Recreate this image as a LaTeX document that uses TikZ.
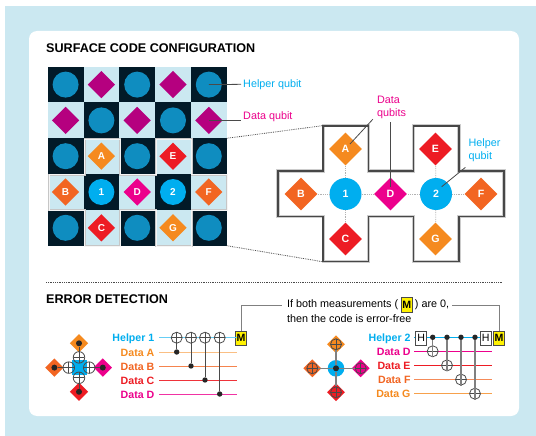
\documentclass[tikz,border=0pt]{standalone}
\usepackage{fontspec}
\setmainfont{Liberation Sans}
\usetikzlibrary{arrows.meta,positioning,shapes.geometric}
\definecolor{panelblue}{HTML}{CBE8F1}
\definecolor{griddark}{HTML}{021A28}
\definecolor{mutedblue}{HTML}{0F8DC0}
\definecolor{mutedpurple}{HTML}{B5007F}
\definecolor{helpercyan}{HTML}{00AEEF}
\definecolor{datapink}{HTML}{EC008C}
\definecolor{datared}{HTML}{ED1C24}
\definecolor{dataorange}{HTML}{F26522}
\definecolor{dataamber}{HTML}{F58A1F}
\definecolor{measyellow}{HTML}{FFF200}
\definecolor{linegray}{HTML}{4A4A4A}
\newcommand{\crosspath}{(1,0) -- (2,0) -- (2,1) -- (3,1) -- (3,0) -- (4,0) -- (4,1)
  -- (5,1) -- (5,2) -- (4,2) -- (4,3) -- (3,3) -- (3,2) -- (2,2) -- (2,3) -- (1,3)
  -- (1,2) -- (0,2) -- (0,1) -- (1,1) -- cycle}
\begin{document}
\begin{tikzpicture}[x=1pt,y=-1pt,
 cell/.style={minimum size=35.8pt,inner sep=0pt,outer sep=0pt},
 bit/.style={circle,minimum size=#1,inner sep=0pt,text=white,font=\fontsize{10}{12}\selectfont\bfseries},
 gem/.style={diamond,aspect=1,minimum size=#1,inner sep=0pt,text=white,font=\fontsize{10}{12}\selectfont\bfseries},
 txt/.style={inner sep=0pt,font=\fontsize{10.8}{13.3}\selectfont,align=left},
 head/.style={anchor=west,inner sep=0pt,font=\fontsize{12.6}{15}\selectfont\bfseries},
 wirelab/.style={anchor=east,inner sep=0pt,text height=8pt,text depth=0pt,text=#1,
   font=\fontsize{10.6}{13}\selectfont\bfseries},
 wire/.style={line width=.9pt,shorten <=4.5pt,color=#1},
 leader/.style={color=linegray,line width=.8pt},
 link/.style={color=gray!60,densely dotted,line width=.8pt},
 zoomline/.style={color=linegray,densely dotted,line width=.8pt},
 gate/.style={color=linegray,line width=1pt},
 ctrl/.style={circle,fill=black!85,minimum size=5.4pt,inner sep=0pt},
 target/.style={circle,draw=linegray,line width=.8pt,minimum size=#1,inner sep=0pt,
   path picture={\draw[linegray,line width=.7pt]
     (path picture bounding box.north) -- (path picture bounding box.south)
     (path picture bounding box.west) -- (path picture bounding box.east);}},
 hbox/.style={draw=linegray,fill=white,line width=1pt,minimum width=11pt,minimum height=14pt,
   inner sep=0pt,font=\fontsize{10.6}{13}\selectfont},
 mbox/.style={draw=linegray,fill=measyellow,line width=.8pt,minimum width=11pt,minimum height=14pt,
   inner sep=0pt,font=\fontsize{10.6}{13}\selectfont\bfseries}]
 \useasboundingbox (0,0) rectangle (536,436);
 \fill[panelblue] (5,6) rectangle (536,436);
 \fill[white,rounded corners=8pt] (29,31) rectangle (519,416);
 \node[head] (titleA) at (46,48.5) {SURFACE CODE CONFIGURATION};
 \node[head] (titleB) at (46,299.5) {ERROR DETECTION};
 % grid of qubits
 \foreach \r in {0,...,4}
  \foreach \c in {0,...,4} {
   \pgfmathtruncatemacro{\odd}{mod(\r+\c,2)}
   \ifnum\odd=0 \def\shade{griddark}\else \def\shade{panelblue}\fi
   \node[cell,fill=\shade] (cell-\c-\r) at (65.6+35.8*\c,84.6+35.8*\r) {};
  }
 \begin{scope}[shift={(49,139)},x=35.65pt,y=-35.65pt]
  \draw[color=white!55!gray,line width=2.2pt] \crosspath;
  \draw[color=white!92!gray,line width=.8pt] \crosspath;
 \end{scope}
 \foreach \c/\r in {0/0,2/0,4/0,1/1,3/1,0/2,2/2,4/2,0/4,2/4,4/4}
  \node[bit=26pt,fill=mutedblue] (help-\c-\r) at (cell-\c-\r) {};
 \foreach \c/\r in {1/0,3/0,0/1,2/1,4/1}
  \node[gem=27.4pt,fill=mutedpurple] (data-\c-\r) at (cell-\c-\r) {};
 \foreach \n/\c/\r/\col in {A/1/2/dataamber,E/3/2/datared,B/0/3/dataorange,D/2/3/datapink,
   F/4/3/dataorange,C/1/4/datared,G/3/4/dataamber}
  \node[gem=27.4pt,fill=\col] (grid\n) at (cell-\c-\r) {\n};
 \node[bit=26pt,fill=helpercyan] (grid1) at (cell-1-3) {1};
 \node[bit=26pt,fill=helpercyan] (grid2) at (cell-3-3) {2};
 \node[txt,anchor=west,text=helpercyan] (helperlab) at (243,84.3) {Helper qubit};
 \node[txt,anchor=west,text=datapink] (datalab) at (243,117) {Data qubit};
 \draw[leader,shorten >=2pt] (help-4-0.center) -- (helperlab.west);
 \draw[leader,shorten >=2pt] (data-4-1.center) -- (data-4-1.center -| datalab.west);
 % enlarged patch
 \coordinate (crossTL) at (322.5,125.7);
 \coordinate (crossBL) at (322.5,261.7);
 \draw[zoomline] (cell-4-1.south east) -- (crossTL);
 \draw[zoomline] (cell-4-4.south east) -- (crossBL);
 \begin{scope}[shift={(278,125.7)},x=45.2pt,y=-45.33pt]
  \draw[color=black!20,line width=3.4pt] \crosspath;
  \draw[color=black!72,line width=1.6pt] \crosspath;
 \end{scope}
 \node[bit=32pt,fill=helpercyan,font=\fontsize{10.6}{13}\selectfont\bfseries] (big1) at (345.5,194) {1};
 \node[bit=32pt,fill=helpercyan,font=\fontsize{10.6}{13}\selectfont\bfseries] (big2) at (436,194) {2};
 \foreach \n/\x/\y/\col in {A/345.5/149/dataamber,B/301/194/dataorange,C/345.5/239/datared,
   D/390.5/194/datapink,E/435.5/149/datared,F/481/194/dataorange,G/435.5/239/dataamber}
  \node[gem=33pt,fill=\col,font=\fontsize{10.6}{13}\selectfont\bfseries] (big\n) at (\x,\y) {\n};
 \foreach \a/\b in {1/A,1/B,1/C,1/D,2/D,2/E,2/F,2/G}
  \draw[link] (big\a) -- (big\b);
 \node[txt,text=datapink] (dataqubits) at (391.5,107.5) {Data\\qubits};
 \node[txt,text=helpercyan] (helperqubit) at (484.5,150.5) {Helper\\qubit};
 \coordinate (ptrA) at (350,144);
 \coordinate (ptrD) at (390.3,187);
 \coordinate (ptr2) at (441.7,186.7);
 \draw[leader] (dataqubits.south west) ++(-4,0) -- (ptrA);
 \draw[leader] (dataqubits.south) ++(-1.2,3) -- (ptrD);
 \draw[leader] (helperqubit.south west) ++(-3,5) -- (ptr2);
 \coordinate (sepL) at (46,282);
 \coordinate (sepR) at (503,282);
 \draw[zoomline] (sepL) -- (sepR);
 % first circuit
 \node[mbox] (measA) at (241,338) {M};
 \coordinate (endL) at (237,0);
 \foreach \n/\t/\y/\col/\lin in {helperA/Helper 1/337.7/helpercyan/helpercyan!60,
   dataLA/Data A/352/dataamber/dataamber!55,dataLB/Data B/366/dataorange/dataorange!80,
   dataLC/Data C/380/datared/datared!90,dataLD/Data D/394/datapink/datapink!80} {
  \node[wirelab=\col] (\n) at (154.5,\y) {\t};
  \draw[wire=\lin] (\n.east) -- (\n.east -| endL);
 }
 \foreach \k/\x/\n in {a/176.7/dataLA,b/191/dataLB,c/205/dataLC,d/219.7/dataLD} {
  \node[target=11pt] (tg\k) at (\x,337.7) {};
  \node[ctrl] (ct\k) at (\n.east -| tg\k) {};
  \draw[gate] (tg\k.north) -- (ct\k);
 }
 % left qubit glyph
 \node[rectangle,fill=helpercyan,minimum size=15pt,inner sep=0pt] (plaqA) at (79,367.6) {};
 \foreach \n/\x/\y/\col/\tx/\ty in {N/79/343.3/dataamber/79/357.4,S/79/391.8/datared/79/377.8,
   W/54.4/367.6/dataorange/68.8/367.6,E/102.8/367.6/datapink/89.2/367.6} {
  \node[gem=18.5pt,fill=\col] (glA\n) at (\x,\y) {};
  \node[target=11.5pt] (glT\n) at (\tx,\ty) {};
  \node[ctrl,minimum size=6pt] (glD\n) at (glA\n) {};
  \draw[gate] (glD\n) -- (glT\n.center);
 }
 % explanation
 \node[txt,anchor=west] (ifboth) at (287,305) {If both measurements (};
 \node[mbox,minimum height=15pt,right=2.5pt of ifboth] (measkey) {M};
 \node[txt,right=2pt of measkey] (arezero) {) are 0,};
 \node[txt,anchor=west] (thencode) at (287,318.5) {then the code is error-free};
 \node[mbox] (measB) at (499,338) {M};
 \draw[color=gray,line width=1pt,shorten >=5pt] (measA.north) |- (ifboth.west);
 \draw[color=gray,line width=1pt,shorten <=3pt] (arezero.east) -| (measB.north);
 % second circuit
 \coordinate (endR) at (492,0);
 \foreach \n/\t/\y/\col/\lin in {helperB/Helper 2/337.3/helpercyan/helpercyan,
   dataRD/Data D/351.3/datapink/datapink,dataRE/Data E/365.4/datared/datared,
   dataRF/Data F/379.6/dataorange/dataorange!75,dataRG/Data G/393.7/dataamber/dataamber!80} {
  \node[wirelab=\col] (\n) at (410.7,\y) {\t};
  \draw[wire=\lin,shorten <=3.5pt] (\n.east) -- (\n.east -| endR);
 }
 \node[hbox] (hgateA) at (421.3,338) {H};
 \node[hbox] (hgateB) at (485.7,338) {H};
 \foreach \k/\x/\n in {d/432.7/dataRD,e/447/dataRE,f/461/dataRF,g/475/dataRG} {
  \node[ctrl] (cr\k) at (\x,337.3) {};
  \node[target=11pt] (tr\k) at (\n.east -| cr\k) {};
  \draw[gate,color=gray,line width=1.1pt] (cr\k) -- (tr\k.south);
 }
 % right qubit glyph
 \node[bit=16.6pt,fill=helpercyan] (plaqB) at (336,368.3) {};
 \node[ctrl,minimum size=6pt] (plaqdot) at (plaqB) {};
 \foreach \n/\x/\y/\col in {N/336/344.3/dataamber,S/336/392.3/datared,
   W/312.3/368.3/dataorange,E/360.7/368.3/datapink} {
  \node[gem=18pt,fill=\col] (glB\n) at (\x,\y) {};
  \node[target=11pt] (glC\n) at (glB\n) {};
  \draw[gate,color=gray,line width=1.1pt] (plaqdot) -- (glC\n);
 }
\end{tikzpicture}
\end{document}
